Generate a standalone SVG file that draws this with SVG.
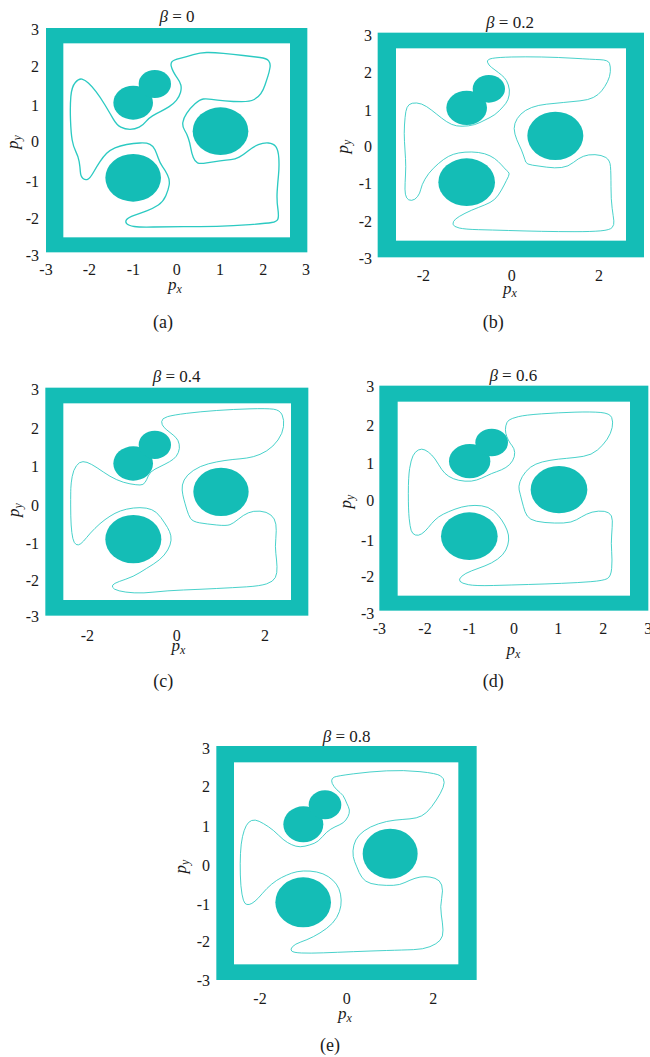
<svg xmlns="http://www.w3.org/2000/svg" width="650" height="1057" viewBox="0 0 650 1057">
<style>
.bg{fill:#fff}
.wall{fill:#14bdb6}
.free{fill:#fff}
.obs{fill:#14bdb6}
.curve{fill:none;stroke:#2ccac2;stroke-linejoin:round;stroke-width:2.6}
.curve.thick{stroke-width:4}
.tick{font-size:16px}
.ty{text-anchor:end}
.tx{text-anchor:middle}
.title{font-size:17px;text-anchor:middle}
.lab{font-size:17px;text-anchor:middle;font-style:italic}
.sub{font-size:12px}
.cap{font-size:18px;text-anchor:middle}
</style>
<rect class="bg" x="0" y="0" width="650" height="1057"/>

<g id="panel-a">
 <g transform="scale(0.33333)">
  <rect class="wall" x="138" y="84" width="784" height="673"/>
  <rect class="free" x="190" y="130" width="680" height="582"/>
  <ellipse class="obs" cx="661.5" cy="393.5" rx="83.5" ry="71.5"/>
  <ellipse class="obs" cx="399.5" cy="533.5" rx="83.5" ry="71.5"/>
  <ellipse class="obs" cx="399.5" cy="308" rx="59.5" ry="51"/>
  <ellipse class="obs" cx="464.5" cy="252" rx="48.5" ry="42"/>
  <path class="curve thick" d="M226,247.5 Q237,235 246,237.5 Q255,240 265,249 Q275,258 287.5,274 Q300,290 315,315 Q330,340 340,357.5 Q350,375 362.5,381.5 Q375,388 390,388 Q405,388 417.5,381.5 Q430,375 437.5,365 Q445,355 457.5,347.5 Q470,340 482.5,334 Q495,328 507.5,320 Q520,312 529,301 Q538,290 541.5,277.5 Q545,265 542.5,255 Q540,245 532.5,235 Q525,225 520,215 Q515,205 513.5,197.5 Q512,190 516,185 Q520,180 540,175 Q560,170 580,164 Q600,158 620,157.5 Q640,157 670,160 Q700,163 730,166.5 Q760,170 780,172.5 Q800,175 806,182.5 Q812,190 810,202.5 Q808,215 804,227.5 Q800,240 795,255 Q790,270 782.5,281 Q775,292 762.5,298.5 Q750,305 725,305 Q700,305 675,302.5 Q650,300 635,298 Q620,296 610,297 Q600,298 585,311.5 Q570,325 560,340 Q550,355 548.5,367.5 Q547,380 553.5,390 Q560,400 565,415 Q570,430 572.5,445 Q575,460 580,472.5 Q585,485 592.5,488.5 Q600,492 620,488.5 Q640,485 660,482.5 Q680,480 692.5,479 Q705,478 717.5,471.5 Q730,465 745,452.5 Q760,440 775,434 Q790,428 805,429 Q820,430 827.5,440 Q835,450 836.5,475 Q838,500 835.5,525 Q833,550 831.5,575 Q830,600 833.5,625 Q837,650 833.5,657.5 Q830,665 815,667.5 Q800,670 750,674 Q700,678 650,679 Q600,680 550,680 Q500,680 460,681 Q420,682 402.5,679.5 Q385,677 380,671 Q375,665 380,658.5 Q385,652 402.5,646 Q420,640 440,632.5 Q460,625 475,615 Q490,605 497.5,587.5 Q505,570 507.5,555 Q510,540 502.5,525 Q495,510 487.5,500 Q480,490 475,475 Q470,460 465,449 Q460,438 450,433 Q440,428 420,429 Q400,430 380,433.5 Q360,437 345,443.5 Q330,450 320,460 Q310,470 300,485 Q290,500 280,517.5 Q270,535 263,538 Q256,541 249,535.5 Q242,530 241,515 Q240,500 237.5,485 Q235,470 227.5,455 Q220,440 216.5,420 Q213,400 211.5,360 Q210,320 212.5,290 Q215,260 226,247.5 Z"/>
 </g>
 <g font-family="Liberation Serif, Times New Roman, DejaVu Serif, serif" fill="#1a1a1a">
 <text class="title" x="177" y="22"><tspan font-style="italic">β</tspan> = 0</text>
 <g class="tick ty">
  <text x="39" y="35">3</text><text x="39" y="72">2</text><text x="39" y="110.5">1</text><text x="39" y="147">0</text><text x="39" y="187">-1</text><text x="39" y="224">-2</text><text x="39" y="260.5">-3</text>
 </g>
 <g class="tick tx">
  <text x="46" y="274.5">-3</text><text x="89.3" y="274.5">-2</text><text x="133.3" y="274.5">-1</text><text x="176.7" y="274.5">0</text><text x="220" y="274.5">1</text><text x="263.3" y="274.5">2</text><text x="306" y="274.5">3</text>
 </g>
 <text class="lab" x="175" y="290">p<tspan class="sub" dy="3">x</tspan></text>
 <text class="lab" transform="translate(18,142) rotate(-90)">p<tspan class="sub" dy="3">y</tspan></text>
 <text class="cap" x="163" y="328">(a)</text>
 </g>
</g>

<g id="panel-b" transform="translate(325,0)">
 <g transform="scale(0.33333)">
  <rect class="wall" x="158" y="98" width="799" height="674"/>
  <rect class="free" x="213" y="145" width="690" height="577"/>
  <ellipse class="obs" cx="691" cy="407.5" rx="84" ry="72.5"/>
  <ellipse class="obs" cx="425" cy="546.5" rx="85" ry="71.5"/>
  <ellipse class="obs" cx="425" cy="323.5" rx="61" ry="51.5"/>
  <ellipse class="obs" cx="491.5" cy="266.5" rx="48.5" ry="41.5"/>
  <path class="curve" d="M487.5,186.5 Q485,178 502.5,175 Q520,172 560,171 Q600,170 650,171 Q700,172 750,175 Q800,178 825,179 Q850,180 853.5,190 Q857,200 856,215 Q855,230 847.5,245 Q840,260 830,272.5 Q820,285 805,292.5 Q790,300 765,302.5 Q740,305 715,307.5 Q690,310 665,312.5 Q640,315 620,322.5 Q600,330 587.5,342.5 Q575,355 570,370 Q565,385 570,402.5 Q575,420 582.5,435 Q590,450 595,465 Q600,480 602.5,486.5 Q605,493 622.5,495.5 Q640,498 665,501.5 Q690,505 710,502.5 Q730,500 745,487.5 Q760,475 775,469 Q790,463 810,464 Q830,465 842.5,472.5 Q855,480 856.5,500 Q858,520 858,560 Q858,600 861.5,625 Q865,650 866.5,662.5 Q868,675 861.5,682.5 Q855,690 827.5,692.5 Q800,695 750,695 Q700,695 650,694 Q600,693 550,691.5 Q500,690 460,689 Q420,688 402.5,684 Q385,680 384,672.5 Q383,665 391.5,657.5 Q400,650 420,640 Q440,630 460,622.5 Q480,615 495,607.5 Q510,600 520,585 Q530,570 537.5,555 Q545,540 550,530 Q555,520 550,516 Q545,512 537.5,503.5 Q530,495 520,485 Q510,475 495,467.5 Q480,460 460,457.5 Q440,455 420,456.5 Q400,458 385,463 Q370,468 355,479 Q340,490 325,505 Q310,520 300,537.5 Q290,555 287.5,567.5 Q285,580 277.5,590 Q270,600 260,601 Q250,602 245,593.5 Q240,585 240,567.5 Q240,550 241.5,525 Q243,500 241.5,475 Q240,450 238.5,425 Q237,400 238.5,375 Q240,350 242.5,335 Q245,320 252.5,314 Q260,308 275,309 Q290,310 305,320 Q320,330 335,342.5 Q350,355 365,365 Q380,375 395,377.5 Q410,380 430,377.5 Q450,375 465,367.5 Q480,360 495,352.5 Q510,345 522.5,332.5 Q535,320 542.5,310 Q550,300 552.5,285 Q555,270 550,255 Q545,240 537.5,232.5 Q530,225 520,217.5 Q510,210 500,202.5 Q490,195 487.5,186.5 Z"/>
 </g>
 <g font-family="Liberation Serif, Times New Roman, DejaVu Serif, serif" fill="#1a1a1a">
 <text class="title" x="185" y="27.5"><tspan font-style="italic">β</tspan> = 0.2</text>
 <g class="tick ty">
  <text x="47" y="40.5">3</text><text x="47" y="78.2">2</text><text x="47" y="115.5">1</text><text x="47" y="152.2">0</text><text x="47" y="188.8">-1</text><text x="47" y="227.2">-2</text><text x="47" y="263.8">-3</text>
 </g>
 <g class="tick tx">
  <text x="98.3" y="280.5">-2</text><text x="186.7" y="280.5">0</text><text x="274" y="280.5">2</text>
 </g>
 <text class="lab" x="185" y="294">p<tspan class="sub" dy="3">x</tspan></text>
 <text class="lab" transform="translate(23,146.7) rotate(-90)">p<tspan class="sub" dy="3">y</tspan></text>
 <text class="cap" x="168.3" y="328">(b)</text>
 </g>
</g>

<g id="panel-c" transform="translate(0,360)">
 <g transform="scale(0.33333)">
  <rect class="wall" x="136" y="83" width="789" height="684"/>
  <rect class="free" x="190" y="130" width="683" height="590"/>
  <ellipse class="obs" cx="663" cy="395.5" rx="83" ry="72.5"/>
  <ellipse class="obs" cx="400" cy="537.5" rx="84" ry="72.5"/>
  <ellipse class="obs" cx="399.5" cy="310.5" rx="59.5" ry="51.5"/>
  <ellipse class="obs" cx="464.5" cy="254.5" rx="48.5" ry="42.5"/>
  <path class="curve" d="M485,185 Q485,175 502.5,170 Q520,165 560,160 Q600,155 650,151.5 Q700,148 750,146.5 Q800,145 820,147.5 Q840,150 846.5,165 Q853,180 850.5,200 Q848,220 834,240 Q820,260 800,272.5 Q780,285 760,290 Q740,295 720,296.5 Q700,298 675,301.5 Q650,305 625,311.5 Q600,318 580,331.5 Q560,345 552.5,360 Q545,375 546.5,390 Q548,405 551.5,417.5 Q555,430 560,447.5 Q565,465 571.5,475 Q578,485 599,488.5 Q620,492 650,495 Q680,498 690,494 Q700,490 715,477.5 Q730,465 745,458.5 Q760,452 780,453.5 Q800,455 812.5,465 Q825,475 827.5,492.5 Q830,510 827.5,535 Q825,560 827.5,580 Q830,600 831,620 Q832,640 826,652.5 Q820,665 800,671.5 Q780,678 740,680.5 Q700,683 650,685.5 Q600,688 550,690 Q500,692 465,696 Q430,700 402.5,698.5 Q375,697 357.5,692.5 Q340,688 337.5,681.5 Q335,675 345,670 Q355,665 377.5,657.5 Q400,650 420,637.5 Q440,625 460,612.5 Q480,600 492.5,585 Q505,570 510,555 Q515,540 512.5,527.5 Q510,515 502.5,502.5 Q495,490 482.5,472.5 Q470,455 455,449 Q440,443 420,443 Q400,443 380,447.5 Q360,452 345,460 Q330,468 315,479 Q300,490 285,505 Q270,520 260,532.5 Q250,545 242.5,551 Q235,557 228.5,553.5 Q222,550 218.5,535 Q215,520 213.5,495 Q212,470 212,435 Q212,400 212.5,385 Q213,370 216.5,350 Q220,330 229,317.5 Q238,305 249,305 Q260,305 275,313.5 Q290,322 310,336 Q330,350 350,359 Q370,368 390,371.5 Q410,375 420,375 Q430,375 435,367.5 Q440,360 445,347.5 Q450,335 465,327.5 Q480,320 495,312.5 Q510,305 520,297.5 Q530,290 535,277.5 Q540,265 537.5,252.5 Q535,240 527.5,232.5 Q520,225 510,217.5 Q500,210 492.5,202.5 Q485,195 485,185 Z"/>
 </g>
 <g font-family="Liberation Serif, Times New Roman, DejaVu Serif, serif" fill="#1a1a1a">
 <text class="title" x="176.7" y="21.5"><tspan font-style="italic">β</tspan> = 0.4</text>
 <g class="tick ty">
  <text x="39" y="34.8">3</text><text x="39" y="73.8">2</text><text x="39" y="112.2">1</text><text x="39" y="150.5">0</text><text x="39" y="188.8">-1</text><text x="39" y="226.2">-2</text><text x="39" y="262.2">-3</text>
 </g>
 <g class="tick tx">
  <text x="87.3" y="280.5">-2</text><text x="176.7" y="280.5">0</text><text x="265" y="280.5">2</text>
 </g>
 <text class="lab" x="178.3" y="291">p<tspan class="sub" dy="3">x</tspan></text>
 <text class="lab" transform="translate(19,150) rotate(-90)">p<tspan class="sub" dy="3">y</tspan></text>
 <text class="cap" x="163.3" y="326.5">(c)</text>
 </g>
</g>

<g id="panel-d" transform="translate(325,360)">
 <g transform="scale(0.33333)">
  <rect class="wall" x="163" y="77" width="807" height="675"/>
  <rect class="free" x="218" y="125" width="697" height="582"/>
  <ellipse class="obs" cx="702" cy="389" rx="85" ry="71"/>
  <ellipse class="obs" cx="433" cy="528.5" rx="85" ry="71.5"/>
  <ellipse class="obs" cx="434" cy="303.5" rx="62" ry="51.5"/>
  <ellipse class="obs" cx="500" cy="247.5" rx="49" ry="41.5"/>
  <path class="curve" d="M542.5,197.5 Q545,185 552.5,180 Q560,175 580,170 Q600,165 650,161.5 Q700,158 750,156.5 Q800,155 827.5,157.5 Q855,160 860,172.5 Q865,185 861.5,202.5 Q858,220 846.5,237.5 Q835,255 817.5,270 Q800,285 775,289 Q750,293 725,295 Q700,297 675,301 Q650,305 632.5,312.5 Q615,320 602.5,335 Q590,350 585,365 Q580,380 582.5,390 Q585,400 590,420 Q595,440 600,455 Q605,470 617.5,477.5 Q630,485 660,487.5 Q690,490 715,489 Q740,488 755,479 Q770,470 785,462.5 Q800,455 820,453.5 Q840,452 851,458.5 Q862,465 862,482.5 Q862,500 860,525 Q858,550 860,575 Q862,600 860,625 Q858,650 846.5,656 Q835,662 797.5,665 Q760,668 710,670 Q660,672 610,673.5 Q560,675 505,676.5 Q450,678 430,674 Q410,670 405,664 Q400,658 410,649 Q420,640 440,632.5 Q460,625 480,617.5 Q500,610 517.5,597.5 Q535,585 542.5,570 Q550,555 551,540 Q552,525 546,510 Q540,495 530,480 Q520,465 505,452.5 Q490,440 470,437.5 Q450,435 430,437.5 Q410,440 390,447.5 Q370,455 355,462.5 Q340,470 330,480 Q320,490 310,502.5 Q300,515 290,521.5 Q280,528 271,525 Q262,522 258.5,511 Q255,500 252.5,475 Q250,450 250,400 Q250,350 254,325 Q258,300 264,287.5 Q270,275 280,270 Q290,265 300,270 Q310,275 320,285 Q330,295 340,312.5 Q350,330 360,340 Q370,350 385,356 Q400,362 420,363.5 Q440,365 455,360 Q470,355 485,347.5 Q500,340 515,335 Q530,330 542.5,322.5 Q555,315 562.5,302.5 Q570,290 569,277.5 Q568,265 561.5,257.5 Q555,250 550,240 Q545,230 542.5,220 Q540,210 542.5,197.5 Z"/>
 </g>
 <g font-family="Liberation Serif, Times New Roman, DejaVu Serif, serif" fill="#1a1a1a">
 <text class="title" x="188.3" y="20.5"><tspan font-style="italic">β</tspan> = 0.6</text>
 <g class="tick ty">
  <text x="49.3" y="31.5">3</text><text x="49.3" y="70.5">2</text><text x="49.3" y="108.8">1</text><text x="49.3" y="145.5">0</text><text x="49.3" y="185.5">-1</text><text x="49.3" y="222.2">-2</text><text x="49.3" y="258.8">-3</text>
 </g>
 <g class="tick tx">
  <text x="54.3" y="273.8">-3</text><text x="100" y="273.8">-2</text><text x="144.3" y="273.8">-1</text><text x="189" y="273.8">0</text><text x="233.3" y="273.8">1</text><text x="278.3" y="273.8">2</text><text x="323.3" y="273.8">3</text>
 </g>
 <text class="lab" x="188.3" y="295">p<tspan class="sub" dy="3">x</tspan></text>
 <text class="lab" transform="translate(26,141.7) rotate(-90)">p<tspan class="sub" dy="3">y</tspan></text>
 <text class="cap" x="168.3" y="326.5">(d)</text>
 </g>
</g>

<g id="panel-e" transform="translate(170,720)">
 <g transform="scale(0.33333)">
  <rect class="wall" x="139" y="78" width="781" height="702"/>
  <rect class="free" x="192" y="127" width="673" height="606"/>
  <ellipse class="obs" cx="660.5" cy="401" rx="82.5" ry="75"/>
  <ellipse class="obs" cx="399.5" cy="547" rx="83.5" ry="75"/>
  <ellipse class="obs" cx="400" cy="313" rx="60" ry="54"/>
  <ellipse class="obs" cx="465" cy="254.5" rx="49" ry="43.5"/>
  <path class="curve" d="M485,182.5 Q485,175 492.5,171.5 Q500,168 550,161.5 Q600,155 650,152.5 Q700,150 750,155 Q800,160 811.5,167.5 Q823,175 822.5,187.5 Q822,200 811,220 Q800,240 785,260 Q770,280 755,287.5 Q740,295 720,296.5 Q700,298 675,300.5 Q650,303 625,311.5 Q600,320 582.5,332.5 Q565,345 557.5,360 Q550,375 549,392.5 Q548,410 554,425 Q560,440 567.5,457.5 Q575,475 587.5,483.5 Q600,492 625,494.5 Q650,497 670,496 Q690,495 705,487.5 Q720,480 735,475 Q750,470 765,470 Q780,470 795,475 Q810,480 815,495 Q820,510 815,535 Q810,560 814,585 Q818,610 819,630 Q820,650 810,661 Q800,672 780,680 Q760,688 730,689 Q700,690 650,691.5 Q600,693 550,695 Q500,697 460,698.5 Q420,700 395,699 Q370,698 365,693 Q360,688 367.5,680 Q375,672 392.5,666 Q410,660 430,650 Q450,640 470,625 Q490,610 500,592.5 Q510,575 512.5,557.5 Q515,540 511.5,522.5 Q508,505 499,492.5 Q490,480 475,470 Q460,460 440,456 Q420,452 400,453 Q380,454 365,459.5 Q350,465 335,472.5 Q320,480 305,492.5 Q290,505 277.5,520 Q265,535 255,543.5 Q245,552 237.5,553.5 Q230,555 225,550 Q220,545 216,522.5 Q212,500 211,465 Q210,430 211.5,400 Q213,370 217.5,350 Q222,330 228.5,317.5 Q235,305 245,301.5 Q255,298 267.5,304 Q280,310 295,320 Q310,330 325,345 Q340,360 352.5,367.5 Q365,375 377.5,378.5 Q390,382 405,378.5 Q420,375 432.5,370 Q445,365 457.5,350 Q470,335 482.5,327.5 Q495,320 507.5,315 Q520,310 527.5,300 Q535,290 537.5,280 Q540,270 535,260 Q530,250 525,237.5 Q520,225 510,217.5 Q500,210 492.5,200 Q485,190 485,182.5 Z"/>
 </g>
 <g font-family="Liberation Serif, Times New Roman, DejaVu Serif, serif" fill="#1a1a1a">
 <text class="title" x="176.7" y="21.5"><tspan font-style="italic">β</tspan> = 0.8</text>
 <g class="tick ty">
  <text x="40" y="33.8">3</text><text x="40" y="72.2">2</text><text x="40" y="112.2">1</text><text x="40" y="150.5">0</text><text x="40" y="189.8">-1</text><text x="40" y="227.2">-2</text><text x="40" y="265.5">-3</text>
 </g>
 <g class="tick tx">
  <text x="90" y="283.8">-2</text><text x="176.7" y="283.8">0</text><text x="263.3" y="283.8">2</text>
 </g>
 <text class="lab" x="175" y="299">p<tspan class="sub" dy="3">x</tspan></text>
 <text class="lab" transform="translate(16,146.7) rotate(-90)">p<tspan class="sub" dy="3">y</tspan></text>
 <text class="cap" x="160" y="331">(e)</text>
 </g>
</g>
</svg>
